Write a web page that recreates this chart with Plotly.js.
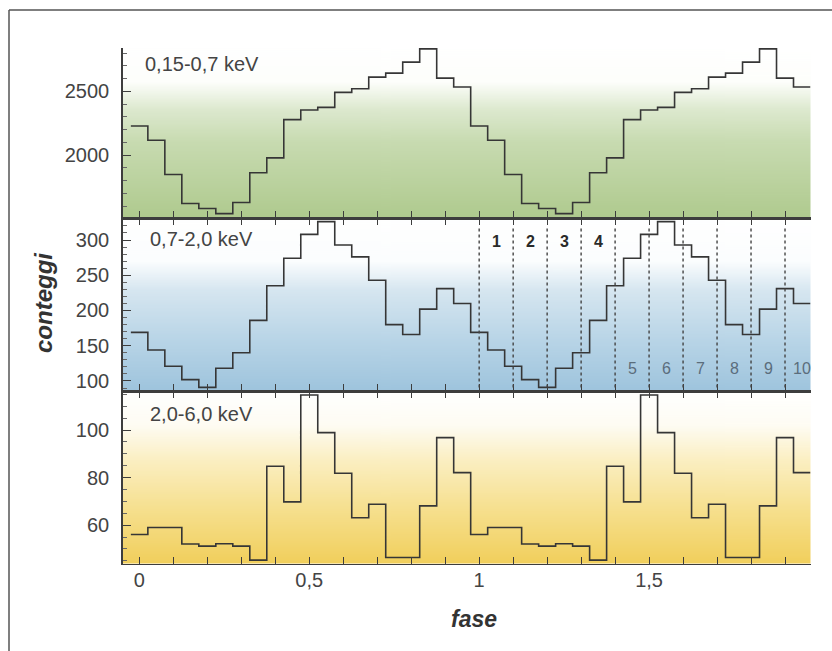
<!DOCTYPE html>
<html>
<head>
<meta charset="utf-8">
<script src="https://cdn.plot.ly/plotly-3.0.1.min.js"></script>
<style>
html,body{margin:0;padding:0;background:#fff;}
#chart{width:832px;height:651px;}
</style>
</head>
<body>
<div id="chart"></div>
<script>
// ---- data (one rotation, 20 phase bins; the figure shows two cycles) ----
const binWidth = 0.05;
const cycles = 2;
const soft = [2229, 2117, 1849, 1622, 1583, 1542, 1630, 1862, 1979, 2279, 2354, 2375, 2492, 2521, 2612, 2643, 2729, 2833, 2604, 2534];
const medium = [169, 144, 121, 102, 91, 118, 140, 186, 235, 274, 308, 326, 293, 276, 243, 180, 166, 202, 231, 210];
const hard = [56.1, 59.0, 59.0, 52.1, 51.2, 52.2, 51.2, 45.3, 84.8, 69.8, 114.7, 98.9, 81.8, 63.1, 68.8, 46.4, 46.4, 68.1, 96.8, 82.1];
const bandLabels = ['0,15-0,7 keV', '0,7-2,0 keV', '2,0-6,0 keV'];
const segmentEdges = [1.0, 1.1, 1.2, 1.3, 1.4, 1.5, 1.6, 1.7, 1.8, 1.9];
const segTop = ['1', '2', '3', '4'];
const segTopX = [1.05, 1.15, 1.25, 1.35];
const segBottom = ['5', '6', '7', '8', '9', '10'];
const segBottomX = [1.45, 1.55, 1.65, 1.75, 1.85, 1.95];

// ---- geometry ----
const W = 832, H = 651;
const xdom = [122.7 / W, 810.5 / W];
const pxY = p => 1 - p / H;
const dom1 = [pxY(218), pxY(48)];
const dom2 = [pxY(391), pxY(218)];
const dom3 = [pxY(563.5), pxY(391)];
const xRange = [-0.049, 1.975];

function stepXY(vals) {
  const all = [];
  for (let c = 0; c < cycles; c++) all.push(...vals);
  const xs = [], ys = [];
  all.forEach((v, i) => { xs.push(i * binWidth - binWidth / 2); ys.push(v); });
  xs.push(all.length * binWidth - binWidth / 2); ys.push(all[all.length - 1]);
  return {xs, ys};
}

const lineStyle = {color: '#363636', width: 1.6, shape: 'hv'};
const s1 = stepXY(soft), s2 = stepXY(medium), s3 = stepXY(hard);
const traces = [
  {x: s1.xs, y: s1.ys, xaxis: 'x', yaxis: 'y', mode: 'lines', line: lineStyle, hoverinfo: 'skip'},
  {x: s2.xs, y: s2.ys, xaxis: 'x2', yaxis: 'y2', mode: 'lines', line: lineStyle, hoverinfo: 'skip'},
  {x: s3.xs, y: s3.ys, xaxis: 'x3', yaxis: 'y3', mode: 'lines', line: lineStyle, hoverinfo: 'skip'}
];

function gradURL(stops) {
  const c = document.createElement('canvas');
  c.width = 4; c.height = 300;
  const ctx = c.getContext('2d');
  const g = ctx.createLinearGradient(0, 0, 0, 300);
  stops.forEach(s => g.addColorStop(s[0], s[1]));
  ctx.fillStyle = g; ctx.fillRect(0, 0, 4, 300);
  return c.toDataURL('image/png');
}
const greenGrad = gradURL([[0, '#ffffff'], [0.2, '#fdfefb'], [0.36, '#dde9cf'], [0.55, '#c8dbb1'], [1, '#afca8e']]);
const blueGrad = gradURL([[0, '#ffffff'], [0.25, '#fbfdfe'], [0.42, '#d6e6f0'], [0.7, '#b9d5e7'], [1, '#9ec4dd']]);
const yellowGrad = gradURL([[0, '#ffffff'], [0.2, '#fefcf3'], [0.4, '#fbefc2'], [0.7, '#f6df8c'], [1, '#f1cf5c']]);
function bgImage(src, dom) {
  return {source: src, xref: 'paper', yref: 'paper', x: xdom[0], y: dom[1], sizex: xdom[1] - xdom[0], sizey: dom[1] - dom[0],
          sizing: 'stretch', xanchor: 'left', yanchor: 'top', layer: 'below'};
}

const font = 'Liberation Sans, Arial, sans-serif';
const axisColor = '#3d3d3d';
function xAxis(anchor, dom, mirror, labels) {
  return {domain: xdom, anchor: anchor, range: xRange, showline: true, linecolor: axisColor, linewidth: 1.5,
          mirror: mirror, ticks: 'inside', ticklen: 7, tickcolor: axisColor, tickwidth: 1, dtick: 0.5, tick0: 0,
          minor: {dtick: 0.1, tick0: 0, ticks: 'inside', ticklen: 7, tickcolor: axisColor, showgrid: false},
          showgrid: false, zeroline: false, showticklabels: labels, ticklabelstandoff: -2,
          tickfont: {family: font, size: 20, color: '#444'}};
}
function yAxis(anchor, dom, range, dtick, minorDtick) {
  return {domain: dom, anchor: anchor, range: range, showline: true, linecolor: axisColor, linewidth: 1.5,
          ticks: 'inside', ticklen: 8, tickcolor: axisColor, dtick: dtick, tick0: 0,
          minor: {dtick: minorDtick, tick0: 0, ticks: 'inside', ticklen: 4, tickcolor: '#666', showgrid: false},
          showgrid: false, zeroline: false, ticklabelstandoff: 8,
          tickfont: {family: font, size: 20, color: '#444'}};
}

const shapes = [
  {type: 'line', xref: 'paper', yref: 'paper', x0: 9 / W, x1: 1, y0: pxY(10), y1: pxY(10), line: {color: '#555', width: 1.5}},
  {type: 'line', xref: 'paper', yref: 'paper', x0: 9 / W, x1: 9 / W, y0: pxY(10), y1: 0, line: {color: '#555', width: 1.5}}
];
segmentEdges.forEach(e => shapes.push({type: 'line', xref: 'x2', yref: 'y2 domain', x0: e, x1: e, y0: 0.02, y1: 0.95,
  line: {color: '#444', width: 1.4, dash: 'dot'}}));

const annotations = [
  {text: bandLabels[0], xref: 'paper', yref: 'paper', x: 143 / W, y: pxY(64), xanchor: 'left', yanchor: 'middle', showarrow: false, font: {family: font, size: 20, color: '#444'}},
  {text: bandLabels[1], xref: 'paper', yref: 'paper', x: 148 / W, y: pxY(239), xanchor: 'left', yanchor: 'middle', showarrow: false, font: {family: font, size: 20, color: '#444'}},
  {text: bandLabels[2], xref: 'paper', yref: 'paper', x: 148 / W, y: pxY(414), xanchor: 'left', yanchor: 'middle', showarrow: false, font: {family: font, size: 20, color: '#444'}},
  {text: '<b><i>conteggi</i></b>', xref: 'paper', yref: 'paper', x: 43 / W, y: pxY(303), xanchor: 'center', yanchor: 'middle', textangle: -90, showarrow: false, font: {family: font, size: 24, color: '#333'}},
  {text: '<b><i>fase</i></b>', xref: 'paper', yref: 'paper', x: 474 / W, y: pxY(619), xanchor: 'center', yanchor: 'middle', showarrow: false, font: {family: font, size: 23, color: '#333'}}
];
segTop.forEach((t, i) => annotations.push({text: '<b>' + t + '</b>', xref: 'x2', yref: 'paper', x: segTopX[i], y: pxY(241), xanchor: 'center', yanchor: 'middle', showarrow: false, font: {family: font, size: 16, color: '#2a2a2a'}}));
segBottom.forEach((t, i) => annotations.push({text: t, xref: 'x2', yref: 'paper', x: segBottomX[i], y: pxY(368), xanchor: 'center', yanchor: 'middle', showarrow: false, font: {family: font, size: 16, color: '#5b6d7c'}}));

const layout = {
  width: W, height: H, margin: {l: 0, r: 0, t: 0, b: 0},
  paper_bgcolor: '#ffffff', plot_bgcolor: 'rgba(0,0,0,0)', showlegend: false, separators: ',.',
  font: {family: font},
  xaxis: xAxis('y', dom1, false, false),
  xaxis2: xAxis('y2', dom2, 'ticks', false),
  xaxis3: xAxis('y3', dom3, 'ticks', true),
  yaxis: yAxis('x', dom1, [1508, 2840], 500, 100),
  yaxis2: yAxis('x2', dom2, [85.8, 331.2], 50, 10),
  yaxis3: yAxis('x3', dom3, [43.9, 116.4], 20, 5),
  images: [bgImage(greenGrad, dom1), bgImage(blueGrad, dom2), bgImage(yellowGrad, dom3)],
  shapes: shapes, annotations: annotations
};

Plotly.newPlot('chart', traces, layout, {staticPlot: true, displayModeBar: false});
</script>
</body>
</html>
